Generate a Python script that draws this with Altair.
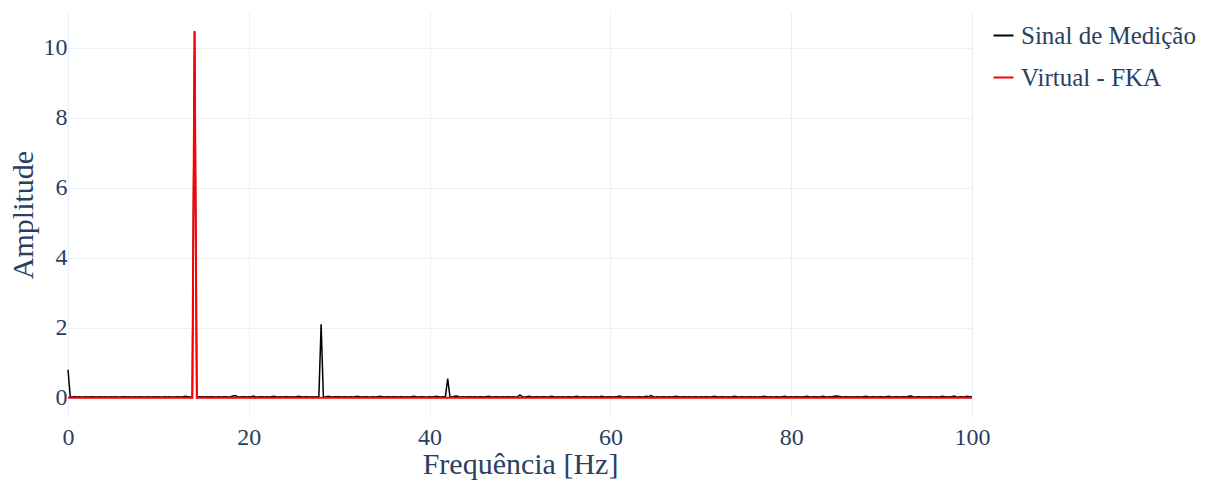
import altair as alt
import pandas as pd
import numpy as np

# Spectrum sampled every 0.25 Hz from 0 to 100 Hz (amplitudes in hundredths)
freq_step = 0.25
medicao_centi = [
    80, 3, 2, 3, 2, 3, 2, 2, 3, 2, 3, 3, 2, 2, 3, 2, 3, 2, 2, 3,
    2, 3, 2, 2, 3, 3, 2, 3, 2, 2, 3, 2, 3, 2, 2, 3, 2, 2, 3, 2,
    3, 2, 2, 3, 2, 3, 2, 2, 3, 3, 2, 3, 4, 3, 2, 3, 1047, 2, 3, 3,
    2, 3, 2, 3, 3, 2, 2, 3, 2, 3, 3, 2, 3, 5, 6, 3, 2, 3, 3, 2,
    3, 2, 5, 3, 2, 3, 3, 2, 3, 2, 3, 4, 3, 2, 3, 2, 3, 3, 2, 3,
    2, 3, 4, 3, 2, 3, 3, 2, 3, 2, 3, 2, 210, 3, 2, 4, 3, 2, 3, 3,
    3, 2, 3, 3, 2, 3, 2, 3, 4, 3, 2, 3, 3, 2, 2, 3, 2, 3, 4, 3,
    2, 3, 3, 2, 3, 3, 2, 3, 3, 2, 3, 2, 3, 4, 3, 2, 3, 3, 2, 2,
    3, 2, 3, 4, 3, 2, 3, 3, 55, 3, 2, 4, 5, 3, 2, 3, 2, 3, 3, 2,
    3, 2, 3, 3, 2, 3, 4, 3, 2, 3, 3, 2, 3, 2, 3, 3, 2, 3, 2, 3,
    8, 3, 2, 3, 4, 3, 2, 3, 3, 2, 3, 3, 2, 3, 4, 3, 2, 3, 2, 3,
    2, 3, 3, 2, 3, 4, 3, 2, 3, 3, 2, 3, 2, 3, 3, 2, 4, 3, 2, 3,
    3, 2, 3, 3, 5, 3, 2, 3, 3, 2, 3, 2, 3, 3, 2, 3, 4, 3, 6, 3,
    2, 3, 2, 3, 3, 2, 3, 2, 3, 4, 3, 2, 3, 3, 2, 3, 2, 3, 3, 2,
    3, 2, 3, 3, 2, 3, 4, 3, 2, 3, 3, 2, 3, 2, 3, 4, 3, 2, 3, 3,
    2, 3, 3, 2, 3, 2, 3, 3, 4, 3, 2, 3, 2, 3, 3, 2, 3, 4, 3, 2,
    3, 2, 3, 3, 2, 3, 3, 4, 3, 2, 3, 3, 2, 3, 4, 3, 2, 3, 3, 4,
    5, 4, 3, 2, 3, 3, 2, 3, 2, 3, 3, 2, 3, 4, 3, 2, 3, 3, 2, 3,
    3, 2, 3, 4, 3, 2, 3, 3, 2, 3, 3, 2, 4, 5, 3, 2, 3, 3, 2, 3,
    2, 3, 3, 2, 3, 2, 3, 4, 3, 2, 3, 3, 5, 3, 2, 3, 2, 3, 4, 3,
    3,
]

# Virtual sensor (FKA) spectrum: flat with a single line at 14 Hz
fka_freq = [0.0, 13.75, 14.0, 14.25, 100.0]
fka_amp = [0.0, 0.0, 10.47, 0.0, 0.0]

series_names = ["Sinal de Medição", "Virtual - FKA"]
series_colors = ["#000000", "#ff0000"]

medicao = pd.DataFrame({
    "freq": np.arange(len(medicao_centi)) * freq_step,
    "amp": np.array(medicao_centi) / 100.0,
    "serie": series_names[0],
})
fka = pd.DataFrame({"freq": fka_freq, "amp": fka_amp, "serie": series_names[1]})

FONT = "Liberation Serif"
TEXT = "#2a3f5f"
GRID = "#ebf0f8"

x = alt.X("freq:Q", title="Frequência [Hz]",
          scale=alt.Scale(domain=[0, 100], nice=False, zero=False),
          axis=alt.Axis(values=[0, 20, 40, 60, 80, 100], format="d",
                        labelFlush=False, labelPadding=8, titlePadding=0))
y = alt.Y("amp:Q", title="Amplitude",
          scale=alt.Scale(domain=[-0.55, 11.02], nice=False, zero=False),
          axis=alt.Axis(values=[0, 2, 4, 6, 8, 10], format="d",
                        labelFlush=False, labelPadding=1, titlePadding=5))
color = alt.Color("serie:N", title=None,
                  scale=alt.Scale(domain=series_names, range=series_colors),
                  legend=alt.Legend(orient="none", legendX=923, legendY=11,
                                    symbolType="stroke", symbolStrokeWidth=2,
                                    symbolSize=400, rowPadding=16,
                                    labelOffset=5))

line_med = alt.Chart(medicao).mark_line(strokeWidth=1.5).encode(x=x, y=y, color=color)
line_fka = alt.Chart(fka).mark_line(strokeWidth=2).encode(x=x, y=y, color=color)

chart = (
    alt.layer(line_med, line_fka)
    .properties(width=904, height=405,
                autosize=alt.AutoSizeParams(type="none"),
                padding={"left": 68, "top": 12, "right": 241, "bottom": 67},
                background="white")
    .configure_view(stroke=None)
    .configure_axis(domain=False, ticks=False, grid=True, gridColor=GRID,
                    gridWidth=1, labelFont=FONT, labelFontSize=24,
                    labelColor=TEXT, titleFont=FONT, titleFontSize=30,
                    titleColor=TEXT, titleFontWeight="normal")
    .configure_legend(labelFont=FONT, labelFontSize=25, labelColor=TEXT,
                      labelLimit=400)
)

chart.save("out.html", embed_options={"renderer": "svg", "actions": False})
